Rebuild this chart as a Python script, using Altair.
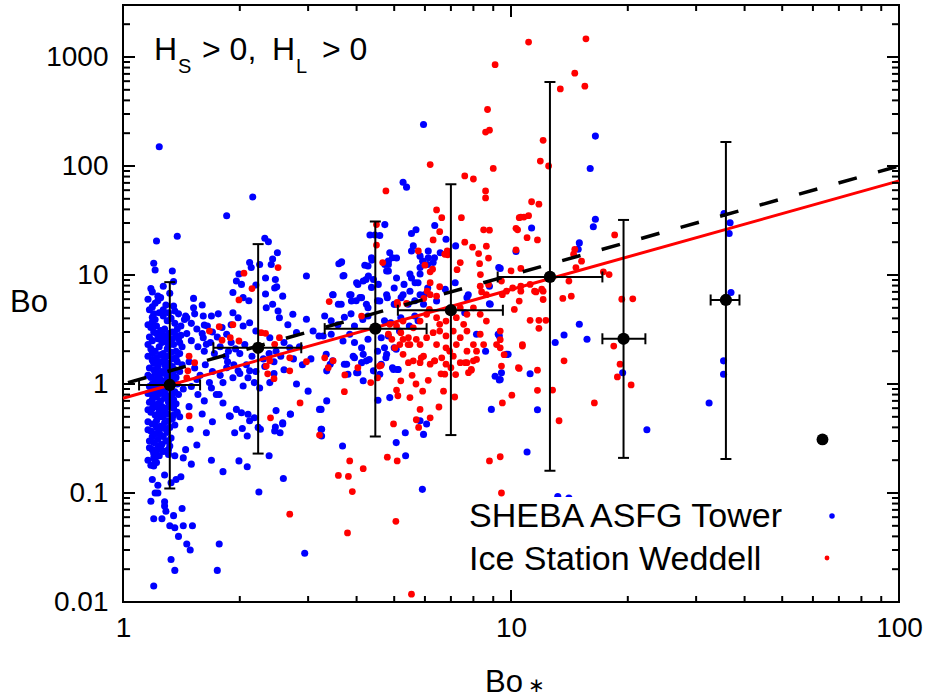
import altair as alt
import pandas as pd

# ------------------------------------------------------------------ data
# SHEBA ASFG Tower points (Bo*, Bo)
sheba_points = [
    (1.24, 150), (2.16, 52), (1.85, 35), (1.22, 20.5), (1.38, 22.7), (2.32, 21.7), (2.37, 20.2),
    (1.2, 12.8), (1.21, 11.1), (1.34, 10.9), (1.35, 8.7), (1.19, 7.0), (1.23, 6.4), (1.52, 6.1),
    (1.2, 4.4), (1.36, 4.67), (1.53, 4.4), (1.61, 4.2), (1.69, 4.2), (1.76, 4.4), (1.46, 4.06),
    (1.62, 3.47), (2.97, 9.8), (2.12, 13.0), (2.14, 11.7), (2.25, 12.5), (2.5, 16.0), (2.43, 14.0),
    (2.41, 12.5), (2.33, 9.4), (2.47, 9.1), (2.46, 7.6), (2.49, 7.8), (1.99, 10.2), (2.02, 8.2),
    (1.96, 8.8), (1.92, 6.9), (2.04, 6.2), (2.11, 5.8), (2.2, 8.1), (2.33, 6.7), (2.34, 5.0),
    (2.43, 5.4), (2.58, 6.4), (2.51, 4.67), (2.53, 4.06), (1.92, 4.5), (1.9, 3.5), (1.98, 4.06),
    (2.04, 3.4), (2.12, 3.65), (2.2, 3.06), (2.74, 4.36), (2.97, 3.92), (2.66, 3.5), (2.8, 2.96),
    (3.09, 3.06), (3.2, 2.76), (1.61, 2.66), (1.64, 2.31), (1.85, 2.86), (1.87, 2.0), (2.39, 2.66),
    (2.48, 2.0), (2.69, 2.15),
    # low tail
    (1.2, 0.014), (1.36, 0.0195), (1.33, 0.0245), (1.75, 0.0195), (1.77, 0.034), (1.46, 0.034),
    (1.49, 0.03), (2.94, 0.028), (1.39, 0.04), (1.36, 0.048), (1.32, 0.05), (1.43, 0.05), (1.51, 0.05),
    (1.35, 0.062), (1.2, 0.058), (1.26, 0.058), (1.18, 0.084), (1.21, 0.1), (1.23, 0.1), (1.28, 0.083),
    (1.28, 0.076), (1.29, 0.068), (1.42, 0.072), (2.24, 0.102), (2.59, 0.136), (1.19, 0.133),
    (1.23, 0.118), (1.28, 0.146), (1.33, 0.124), (1.37, 0.133), (1.41, 0.141), (1.81, 0.157),
    (2.09, 0.174), (1.99, 0.197), (1.69, 0.2), (1.5, 0.184), (2.38, 0.22), (1.43, 0.21), (1.36, 0.22),
    (1.31, 0.226), (1.21, 0.197), (1.2, 0.177), (1.45, 0.25), (1.55, 0.276), (1.29, 0.243), (1.32, 0.27),
    (1.64, 0.357), (1.49, 0.384), (1.6, 0.53), (1.7, 0.45), (1.89, 0.505), (1.94, 0.357), (2.09, 0.334),
    (2.03, 0.39), (2.23, 0.4), (2.26, 0.384), (2.47, 0.403), (2.54, 0.357), (2.58, 0.43), (2.7, 0.527),
    (2.8, 1.0), (3.0, 0.86), (3.21, 0.585), (3.24, 0.384), (1.77, 0.8), (1.81, 0.67), (1.88, 0.51),
    (1.96, 0.585), (2.02, 0.545), (2.1, 0.527), (2.12, 0.46), (2.18, 0.49), (1.67, 1.03), (1.69, 0.92),
    (1.74, 0.8), (1.81, 1.03), (1.92, 1.14), (2.04, 0.96), (2.1, 1.14), (2.18, 1.03), (2.25, 0.92),
    (2.39, 1.03), (2.12, 1.32), (1.98, 1.32), (1.85, 1.41), (2.48, 0.57), (2.7, 0.53), (2.58, 0.44),
    (2.46, 0.37),
    # dense column near Bo* ~ 1.2-1.4
    (1.17, 4.8), (1.19, 4.1), (1.21, 3.9), (1.24, 4.5), (1.27, 4.2), (1.3, 3.8), (1.33, 4.0), (1.36, 3.6),
    (1.18, 3.3), (1.2, 3.0), (1.22, 3.4), (1.25, 3.1), (1.28, 3.2), (1.31, 2.9), (1.34, 3.0), (1.38, 3.2),
    (1.41, 3.4), (1.17, 2.7), (1.19, 2.5), (1.23, 2.6), (1.26, 2.4), (1.29, 2.7), (1.32, 2.5), (1.35, 2.3),
    (1.39, 2.6), (1.18, 2.1), (1.21, 2.0), (1.24, 2.2), (1.27, 1.9), (1.3, 2.1), (1.33, 1.95), (1.37, 2.0),
    (1.42, 2.2), (1.16, 1.8), (1.19, 1.65), (1.22, 1.75), (1.25, 1.6), (1.28, 1.7), (1.31, 1.55),
    (1.34, 1.7), (1.38, 1.6), (1.17, 1.4), (1.2, 1.35), (1.23, 1.45), (1.26, 1.3), (1.29, 1.4),
    (1.32, 1.25), (1.36, 1.35), (1.4, 1.3), (1.18, 1.15), (1.21, 1.1), (1.24, 1.2), (1.27, 1.05),
    (1.3, 1.12), (1.34, 1.08), (1.37, 1.15), (1.17, 0.95), (1.2, 0.9), (1.23, 0.97), (1.26, 0.88),
    (1.29, 0.93), (1.33, 0.9), (1.36, 0.85), (1.19, 0.8), (1.22, 0.76), (1.25, 0.82), (1.28, 0.74),
    (1.31, 0.78), (1.35, 0.72), (1.39, 0.8), (1.17, 0.68), (1.2, 0.64), (1.23, 0.66), (1.26, 0.62),
    (1.29, 0.6), (1.33, 0.65), (1.18, 0.55), (1.21, 0.52), (1.24, 0.56), (1.27, 0.5), (1.3, 0.53),
    (1.34, 0.48), (1.38, 0.55), (1.16, 0.45), (1.19, 0.43), (1.22, 0.46), (1.25, 0.41), (1.28, 0.44),
    (1.32, 0.4), (1.36, 0.42), (1.18, 0.37), (1.21, 0.35), (1.24, 0.38), (1.27, 0.33), (1.3, 0.36),
    (1.17, 0.3), (1.2, 0.29), (1.23, 0.31), (1.26, 0.28), (1.29, 0.3), (1.33, 0.32), (1.19, 0.25),
    (1.22, 0.24), (1.25, 0.26), (1.31, 0.25), (1.2, 0.21), (1.24, 0.22), (1.18, 0.18), (1.21, 5.5),
    (1.25, 6.2), (1.29, 5.3), (1.32, 6.8), (1.18, 7.5), (1.27, 7.9), (1.23, 1.0), (1.33, 0.99),
    (1.21, 1.25), (1.3, 1.8), (1.26, 2.9), (1.2, 1.55), (1.35, 0.6), (1.4, 0.5), (1.43, 0.9),
    (1.42, 1.5), (1.41, 2.8), (1.44, 3.9),
    (1.16, 3.5), (1.19, 3.7), (1.22, 2.9), (1.25, 2.7), (1.28, 2.45), (1.31, 2.25), (1.34, 2.6),
    (1.37, 2.8), (1.4, 2.4), (1.16, 2.3), (1.19, 1.9), (1.22, 1.55), (1.25, 1.85), (1.28, 1.5),
    (1.31, 1.35), (1.34, 1.45), (1.37, 1.75), (1.4, 1.9), (1.16, 1.2), (1.19, 1.0), (1.22, 1.3),
    (1.25, 1.1), (1.28, 1.25), (1.31, 0.97), (1.35, 1.2), (1.38, 1.0), (1.16, 0.82), (1.19, 0.72),
    (1.22, 0.86), (1.25, 0.7), (1.28, 0.84), (1.31, 0.68), (1.34, 0.8), (1.37, 0.66), (1.16, 0.58),
    (1.19, 0.6), (1.22, 0.62), (1.25, 0.5), (1.28, 0.55), (1.31, 0.46), (1.35, 0.52), (1.16, 0.38),
    (1.19, 0.33), (1.22, 0.4), (1.25, 0.34), (1.28, 0.39), (1.31, 0.3), (1.17, 0.26), (1.2, 0.23),
    (1.23, 0.27), (1.27, 0.24), (1.16, 0.2), (1.22, 0.19), (1.19, 5.1), (1.23, 5.8), (1.27, 4.8),
    (1.31, 4.5), (1.35, 5.2), (1.39, 4.4), (1.16, 6.0),
    # band Bo* 1.45-3.2
    (1.5, 3.6), (1.55, 3.2), (1.6, 2.9), (1.65, 3.4), (1.7, 3.0), (1.75, 2.7), (1.8, 3.3), (1.5, 2.5),
    (1.56, 2.2), (1.62, 2.0), (1.68, 2.4), (1.72, 1.9), (1.78, 2.2), (1.84, 1.8), (1.9, 2.4), (1.95, 2.1),
    (2.0, 1.9), (2.06, 2.3), (2.15, 1.8), (2.22, 2.1), (2.3, 1.7), (2.38, 1.9), (2.45, 1.6), (2.55, 1.8),
    (2.6, 2.4), (2.75, 1.7), (2.85, 2.2), (1.48, 1.6), (1.53, 1.4), (1.58, 1.2), (1.63, 1.5), (1.7, 1.3),
    (1.78, 1.2), (1.86, 1.6), (1.93, 1.5), (2.0, 1.25), (2.08, 1.5), (2.2, 1.3), (2.32, 1.45),
    (2.45, 1.25), (2.6, 1.35), (2.9, 1.5), (3.05, 1.7), (1.5, 0.95), (1.56, 0.8), (1.62, 0.7),
    (1.48, 0.62), (1.55, 1.1), (1.46, 2.9), (1.52, 5.0), (1.6, 5.3), (1.45, 4.2),
    # cluster Bo* 3.2-10
    (5.95, 240), (5.27, 71), (5.38, 64), (4.73, 29), (4.33, 23.3), (4.46, 23.3), (4.59, 23), (5.54, 24),
    (5.69, 26), (6.36, 28.5), (6.8, 21.3), (7.2, 18.5), (6.57, 16), (6.12, 16.6), (5.6, 18.5),
    (5.54, 16.6), (3.66, 13.2), (3.6, 12.7), (3.71, 9.9), (4.2, 12.3), (4.38, 13.7), (4.73, 12.5),
    (4.87, 16), (4.83, 13.4), (5.07, 14.3), (5.83, 14.9), (5.92, 13.4), (6.12, 14.4), (6.3, 13),
    (5.83, 11.7), (9.38, 11.5), (10.3, 16.4), (4.0, 8.5), (4.16, 8.8), (4.29, 9.8), (4.42, 9.1),
    (4.55, 8.2), (4.78, 10.9), (5.07, 9.4), (5.49, 10.2), (5.66, 8.5), (5.83, 10.2), (7.18, 8.5),
    (6.77, 7.4), (3.48, 6.6), (3.59, 5.4), (3.84, 6.6), (3.88, 5.77), (4.08, 6.2), (4.24, 5.4),
    (4.59, 5.77), (4.78, 6.6), (5.02, 5.4), (5.27, 6.6), (5.49, 7.1), (5.83, 6.6), (5.95, 5.4),
    (6.43, 5.77), (7.7, 6.2), (8.84, 5.4),
    (4.28, 12.1), (4.83, 10.9), (3.69, 9.8), (4.03, 8.2), (4.23, 9.1), (4.37, 7.7), (5.0, 7.6),
    (5.3, 8.2), (5.54, 9.4), (5.76, 8.5), (3.47, 6.6), (3.65, 5.4), (3.87, 6.6), (3.99, 5.8),
    (4.12, 6.2), (4.28, 5.0), (4.53, 5.8), (4.8, 6.2), (5.0, 5.4), (5.21, 6.2), (5.43, 5.4),
    (5.65, 5.8), (5.98, 6.6), (6.1, 7.6), (3.31, 4.2), (3.44, 3.8), (3.58, 3.5), (3.72, 4.1),
    (3.87, 4.4), (3.95, 3.4), (4.15, 3.9), (4.28, 4.2), (4.72, 3.8), (4.9, 3.65), (5.2, 4.06),
    (5.47, 3.4), (5.65, 4.2), (5.76, 3.8), (3.28, 2.76), (3.44, 2.86), (3.69, 2.48), (3.84, 2.86),
    (3.95, 2.4), (4.12, 2.15), (4.28, 2.57), (4.63, 2.66), (4.83, 2.76), (5.0, 2.15), (5.16, 3.06),
    (3.34, 1.87), (3.47, 1.63), (3.72, 1.52), (3.95, 1.74), (4.12, 1.57), (4.31, 1.68), (4.76, 1.74),
    (4.95, 1.41), (5.1, 1.36), (5.06, 2.08), (4.72, 2.15), (4.53, 2.0), (4.63, 1.52), (3.8, 1.23),
    (4.03, 1.27), (3.65, 13), (4.37, 14.4), (4.95, 14.4), (4.83, 12.5), (6.1, 12.5), (6.35, 14.4),
    (5.91, 0.108), (3.68, 0.27), (5.35, 0.22), (5.06, 0.29), (5.34, 0.357), (5.95, 0.345), (6.06, 0.43),
    (5.83, 0.46), (3.25, 0.384), (3.25, 0.334), (3.35, 0.7), (3.24, 0.585), (4.54, 0.71), (4.87, 0.75),
    (8.9, 0.585), (9.1, 1.18), (9.38, 1.1), (9.45, 1.27), (9.74, 1.87), (9.83, 1.87), (9.33, 2.76),
    (8.6, 2.0), (8.15, 2.86), (3.35, 1.32), (3.42, 1.52), (3.77, 1.52), (3.92, 1.8), (4.16, 1.87),
    (4.0, 1.27), (4.16, 1.07), (4.42, 1.32), (4.24, 1.63), (4.78, 1.87), (4.98, 1.36), (5.12, 1.36),
    (4.59, 1.23), (9.33, 1.09), (7.76, 6.6), (8.8, 7.9), (8.8, 5.45), (7.6, 4.5), (9.27, 2.86), (9.3, 11.7),
    # Bo* > 10
    (16.5, 188), (16.0, 95), (16.5, 32.5), (16.3, 27.7), (11.3, 27), (15.0, 19.7), (14.9, 17.2),
    (35.4, 36.6), (36.7, 30.2), (36.5, 24), (36.9, 6.9), (15.0, 3.53), (13.7, 2.82), (13.0, 2.4),
    (15.7, 2.57), (11.2, 1.24), (11.7, 0.58), (11.0, 0.238), (13.2, 0.093), (14.1, 0.09), (19.4, 1.27),
    (22.4, 0.38), (32.4, 0.67), (35.3, 1.63), (35.3, 1.23),
]

# Ice Station Weddell points (Bo*, Bo)
weddell_points = [
    (2.51, 11.7), (2.05, 10.4), (2.15, 7.5), (1.99, 5.9), (1.92, 3.5), (1.77, 3.36), (1.67, 3.06),
    (1.8, 2.52), (1.89, 2.66), (1.99, 2.48), (2.27, 2.96), (2.33, 2.92), (2.53, 2.66), (2.46, 2.31),
    (1.48, 1.8), (2.69, 0.064), (1.48, 0.51), (2.4, 0.49), (2.86, 0.67), (3.21, 0.34), (2.97, 1.6),
    (2.69, 1.32), (2.36, 1.24), (2.45, 1.12), (1.53, 1.57), (1.47, 1.32), (1.46, 1.14), (2.39, 1.63),
    (2.34, 1.46), (2.69, 1.74),
    (9.1, 850), (8.7, 330), (8.6, 205), (8.8, 213), (6.19, 103), (9.0, 95), (7.6, 81), (8.0, 76),
    (4.76, 59), (8.6, 59), (8.6, 51), (6.43, 39.5), (6.63, 33.6), (7.45, 33.6), (6.55, 25), (6.3, 21),
    (8.5, 26), (8.8, 25.8), (10.3, 26.8), (10.5, 33.6), (4.5, 29), (4.5, 18.8), (4.67, 13), (7.6, 20),
    (7.96, 18), (8.64, 18.4), (8.25, 15.7), (8.3, 12.7), (8.75, 14.3), (8.34, 10.1), (7.4, 13),
    (7.26, 11.2), (10.0, 10.9), (10.3, 17), (5.77, 16.6), (6.85, 16.6), (6.87, 15.3), (6.0, 12.3),
    (6.19, 10.7), (6.19, 8.5), (6.08, 7.1), (5.96, 6.1), (6.19, 6.6), (6.55, 7.8), (6.43, 6.4),
    (5.09, 5.6), (5.38, 5.5), (3.4, 5.7), (8.4, 7.0), (9.45, 8.8), (8.75, 8.2), (9.74, 7.1), (10.1, 7.6),
    (6.28, 11.3), (6.75, 15.5),
    (5.54, 0.0118), (3.79, 0.043), (5.05, 0.055), (3.9, 0.103), (9.45, 0.1), (3.59, 0.145),
    (3.81, 0.142), (4.16, 0.167), (3.84, 0.197), (5.09, 0.197), (4.8, 0.213), (8.8, 0.197),
    (9.38, 0.215), (4.98, 0.43), (5.7, 0.47), (5.78, 0.4), (6.19, 0.49), (5.83, 0.585), (6.52, 0.615),
    (9.5, 0.67), (10.05, 0.79), (3.72, 0.85), (5.49, 0.75), (5.11, 0.78), (5.07, 0.88), (5.92, 0.86),
    (6.12, 1.08), (6.7, 0.86), (7.16, 0.76), (4.58, 1.46), (4.53, 1.14), (4.35, 1.03), (5.2, 1.07),
    (5.56, 1.2), (5.69, 1.0), (6.6, 1.24), (7.2, 1.22), (7.77, 1.27), (9.45, 1.46), (9.18, 2.3),
    (9.38, 2.55), (9.6, 1.86), (10.45, 1.41), (3.31, 1.74), (3.48, 1.63), (3.73, 1.21), (4.62, 1.48),
    (5.27, 1.87), (5.44, 1.57), (5.6, 1.63), (5.83, 1.57), (5.95, 1.8), (6.19, 1.52), (6.36, 1.63),
    (6.63, 1.74), (6.8, 1.52), (7.1, 1.8), (7.4, 1.57), (7.7, 1.57), (8.0, 1.63), (7.9, 1.36),
    (8.15, 1.68), (7.7, 2.0), (8.0, 2.3), (7.23, 2.3), (6.8, 2.15), (6.43, 2.3), (5.83, 2.3), (5.49, 2.3),
    (5.17, 2.3), (5.02, 2.15), (5.27, 2.57), (5.7, 2.57), (6.06, 2.66), (6.3, 2.96), (6.55, 3.06),
    (6.8, 2.76), (7.1, 3.06), (7.4, 2.66), (7.7, 3.06), (6.55, 3.53), (6.8, 3.78), (6.43, 4.06),
    (6.06, 4.36), (5.83, 3.78), (5.6, 3.28), (5.44, 2.66), (5.2, 2.96), (5.07, 3.4), (4.87, 3.53),
    (4.83, 2.86), (4.93, 2.57), (8.33, 2.86), (7.55, 3.53), (7.23, 4.06), (7.7, 4.36), (7.4, 5.0),
    (8.0, 5.0), (8.33, 4.36), (8.64, 3.78), (8.5, 2.3), (8.15, 2.0), (7.62, 1.57), (7.9, 1.34),
    (4.12, 4.2), (5.27, 3.78), (5.1, 5.37), (6.16, 4.83), (3.38, 1.41), (4.03, 1.41), (5.43, 2.3),
    (5.87, 1.74), (6.35, 1.63), (6.95, 2.0), (7.0, 1.41), (6.75, 1.23),
    (11.1, 1370), (15.6, 1470), (14.6, 710), (15.5, 540), (13.4, 510), (12.1, 172), (11.9, 111),
    (12.5, 100), (11.3, 47), (11.8, 44.6), (10.6, 34), (10.8, 34), (11.1, 35), (10.4, 26), (11.0, 22),
    (11.7, 21), (18.5, 23.3), (14.6, 17.2), (14.5, 15.5), (15.2, 13.4), (14.7, 11.7), (10.6, 11.5),
    (10.6, 7.9), (11.2, 8.2), (14.1, 8.8), (14.3, 6.4), (13.6, 6.1), (12.0, 7.4), (11.6, 7.0),
    (10.6, 7.1), (17.3, 10.7), (17.9, 10.1), (19.3, 6.0), (20.6, 6.05), (11.5, 7.1), (12.1, 7.1),
    (10.5, 5.77), (12.1, 5.96), (10.2, 4.83), (11.2, 3.84), (11.8, 3.84), (12.3, 3.84), (11.8, 3.24),
    (10.7, 2.23), (13.7, 1.63), (10.5, 1.39), (11.7, 1.34), (11.7, 0.875), (12.8, 0.88), (13.3, 0.46),
    (16.4, 0.67), (18.4, 2.23), (19.1, 1.52), (18.8, 1.16), (20.4, 0.98), (8.33, 7.9), (8.64, 6.6),
    (9.5, 6.6), (9.38, 3.06), (9.38, 2.15), (10.7, 2.3),
]

# bin averages with spread
bin_bo_star = [1.32, 2.23, 4.47, 7.0, 12.6, 19.5, 35.8]
bin_bo = [0.98, 2.15, 3.22, 4.75, 9.6, 2.6, 5.9]
bin_bo_low = [0.11, 0.23, 0.33, 0.34, 0.16, 0.21, 0.205]
bin_bo_high = [8.6, 19.2, 31, 68, 590, 32, 166]
bin_bo_star_low = [1.10, 1.71, 3.31, 5.11, 9.24, 17.2, 32.7]
bin_bo_star_high = [1.58, 2.88, 6.06, 9.53, 17.2, 22.2, 38.8]
lone_bo_star = [63.5]
lone_bo = [0.31]

# fitted lines
fit_bo_star = [1, 100]
fit_red_bo = [0.74, 73]
one_to_one_bo = [1, 100]

# axis ticks
x_major = [1, 10, 100]
x_minor = [2, 3, 4, 5, 6, 7, 8, 9, 20, 30, 40, 50, 60, 70, 80, 90]
y_major = [0.01, 0.1, 1, 10, 100, 1000]
y_minor = [0.02, 0.03, 0.04, 0.05, 0.06, 0.07, 0.08, 0.09,
           0.2, 0.3, 0.4, 0.5, 0.6, 0.7, 0.8, 0.9,
           2, 3, 4, 5, 6, 7, 8, 9,
           20, 30, 40, 50, 60, 70, 80, 90,
           200, 300, 400, 500, 600, 700, 800, 900, 2000]

# ------------------------------------------------------------------ chart
W, H = 776, 597
FONT = "Liberation Sans"
BLUE = "#0000ff"
RED = "#ff0000"

sheba_df = pd.DataFrame(sheba_points, columns=["x", "y"])
weddell_df = pd.DataFrame(weddell_points, columns=["x", "y"])
bins_df = pd.DataFrame({"x": bin_bo_star, "y": bin_bo, "ylo": bin_bo_low, "yhi": bin_bo_high,
                        "xlo": bin_bo_star_low, "xhi": bin_bo_star_high})
lone_df = pd.DataFrame({"x": lone_bo_star, "y": lone_bo})
fit_df = pd.DataFrame({"x": fit_bo_star, "yr": fit_red_bo, "y1": one_to_one_bo})
one = pd.DataFrame({"a": [0]})

xs = alt.Scale(type="log", domain=[1, 100], nice=False)
ys = alt.Scale(type="log", domain=[0.01, 3000], nice=False)

x_axis = alt.Axis(values=x_major, format="~g", ticks=False, domain=False, grid=False,
                  labelFontSize=28, labelFont=FONT, labelColor="black", labelPadding=12,
                  labelFlush=False, labelOverlap=False, title=None)
y_axis = alt.Axis(values=y_major, format="~g", ticks=False, domain=False, grid=False,
                  labelFontSize=28, labelFont=FONT, labelColor="black", labelPadding=15,
                  labelFlush=False, labelOverlap=False, title=None)


def X(field):
    return alt.X(field, type="quantitative", scale=xs, axis=x_axis)


def Y(field):
    return alt.Y(field, type="quantitative", scale=ys, axis=y_axis)


layers = []
layers.append(alt.Chart(sheba_df).mark_circle(size=50, color=BLUE, opacity=1)
              .encode(x=X("x"), y=Y("y")))
layers.append(alt.Chart(weddell_df).mark_circle(size=46, color=RED, opacity=1)
              .encode(x=X("x"), y=Y("y")))

# fits
layers.append(alt.Chart(fit_df).mark_line(color=RED, strokeWidth=3)
              .encode(x=X("x"), y=Y("yr")))
layers.append(alt.Chart(fit_df).mark_line(color="black", strokeWidth=3.5,
                                          strokeDash=[19, 22], strokeDashOffset=35.8)
              .encode(x=X("x"), y=Y("y1")))

# error bars
layers.append(alt.Chart(bins_df).mark_rule(color="black", strokeWidth=2)
              .encode(x=X("x"), y=Y("ylo"), y2="yhi"))
layers.append(alt.Chart(bins_df).mark_rule(color="black", strokeWidth=2)
              .encode(y=Y("y"), x=X("xlo"), x2="xhi"))
for f in ["ylo", "yhi"]:
    layers.append(alt.Chart(bins_df).mark_tick(orient="horizontal", size=11, thickness=2, color="black", opacity=1)
                  .encode(x=X("x"), y=Y(f)))
for f in ["xlo", "xhi"]:
    layers.append(alt.Chart(bins_df).mark_tick(orient="vertical", size=11, thickness=2, color="black", opacity=1)
                  .encode(x=X(f), y=Y("y")))
layers.append(alt.Chart(bins_df).mark_circle(size=150, color="black", opacity=1)
              .encode(x=X("x"), y=Y("y")))
layers.append(alt.Chart(lone_df).mark_circle(size=140, color="black", opacity=1)
              .encode(x=X("x"), y=Y("y")))

# inward ticks on all four sides
for vals, ln in [(y_major, 12), (y_minor, 7)]:
    d = pd.DataFrame({"v": vals})
    layers.append(alt.Chart(d).mark_rule(color="black", strokeWidth=2)
                  .encode(y=Y("v"), x=alt.value(0), x2=alt.value(ln)))
    layers.append(alt.Chart(d).mark_rule(color="black", strokeWidth=2)
                  .encode(y=Y("v"), x=alt.value(W - ln), x2=alt.value(W)))
for vals, ln in [(x_major, 12), (x_minor, 6)]:
    d = pd.DataFrame({"v": vals})
    layers.append(alt.Chart(d).mark_rule(color="black", strokeWidth=2)
                  .encode(x=X("v"), y=alt.value(H - ln), y2=alt.value(H)))
    layers.append(alt.Chart(d).mark_rule(color="black", strokeWidth=2)
                  .encode(x=X("v"), y=alt.value(0), y2=alt.value(ln)))

# legend box
layers.append(alt.Chart(one).mark_rect(color="white", opacity=1)
              .encode(x=alt.value(339), x2=alt.value(727), y=alt.value(492), y2=alt.value(585)))


def text(t, x, y, size, align="left", baseline="alphabetic"):
    return (alt.Chart(one).mark_text(text=t, font=FONT, fontSize=size, align=align,
                                      baseline=baseline, color="black")
            .encode(x=alt.value(x), y=alt.value(y)))


layers.append(text("SHEBA ASFG Tower", 346, 522, 34))
layers.append(text("Ice Station Weddell", 346, 565, 34))
layers.append(alt.Chart(one).mark_circle(size=30, color=BLUE, opacity=1)
              .encode(x=alt.value(709), y=alt.value(511)))
layers.append(alt.Chart(one).mark_circle(size=24, color=RED, opacity=1)
              .encode(x=alt.value(704), y=alt.value(553)))

# annotation H_s > 0, H_L > 0
layers.append(text("H", 31, 55, 32))
layers.append(text("S", 55, 68, 20))
layers.append(text("> 0,", 79, 55, 32))
layers.append(text("H", 149, 55, 32))
layers.append(text("L", 173, 68, 20))
layers.append(text("> 0", 199, 55, 32))

# axis titles
layers.append(text("Bo", -113, 307, 31))
layers.append(text("Bo", 362, 687, 31))
layers.append(text("\u2217", 405, 691, 20, baseline="bottom"))

chart = (alt.layer(*layers)
         .properties(width=W, height=H, autosize="none",
                     padding={"left": 123, "top": 5, "right": 28, "bottom": 96})
         .configure_view(stroke="black", strokeWidth=2))

chart.save("out.html", embed_options={"renderer": "svg", "actions": False})
